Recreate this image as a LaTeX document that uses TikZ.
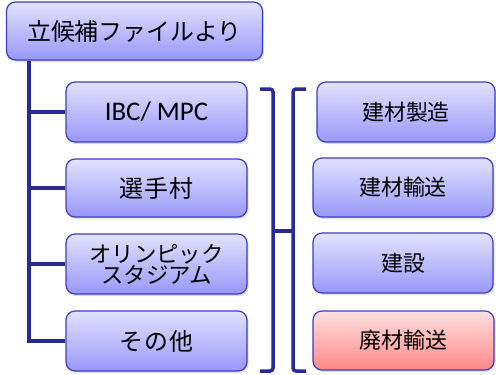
\documentclass[tikz,border=0pt]{standalone}
\usepackage{fontspec}
\setmainfont{Noto Sans CJK JP}
\newfontfamily\latinfont{Carlito}
\usetikzlibrary{shadows}
\definecolor{boxline}{HTML}{3C3CC8}
\definecolor{conn}{HTML}{2A2A96}
\definecolor{btop}{HTML}{E2E2FF}
\definecolor{bbot}{HTML}{9898FA}
\definecolor{rtop}{HTML}{FFE0E0}
\definecolor{rbot}{HTML}{FF8888}
\tikzset{
  box/.style={draw=boxline, line width=1.2bp, rounded corners=9bp,
    top color=btop, bottom color=bbot, text=black,
    drop shadow={opacity=0.25, shadow xshift=1.5bp, shadow yshift=-2bp},
    align=center, inner sep=0pt},
  redbox/.style={box, top color=rtop, bottom color=rbot},
  link/.style={draw=conn, line width=3.5bp},
}
\begin{document}
\begin{tikzpicture}[x=1bp,y=-1bp]
\useasboundingbox (0,0) rectangle (496,374);
% top box
\node[box, minimum width=256bp, minimum height=58bp, font=\fontsize{24}{28}\selectfont] (top) at (134.5,31) {立候補ファイルより};
% left boxes
\node[box, minimum width=181bp, minimum height=60bp, font=\latinfont\fontsize{27}{30}\selectfont] (ibc) at (156.5,112) {IBC/ MPC};
\node[box, minimum width=181bp, minimum height=58bp, font=\fontsize{24}{28}\selectfont] (mura) at (156.5,188) {選\hspace{1.5bp}手\hspace{1.5bp}村};
\node[box, minimum width=181bp, minimum height=60bp, font=\fontsize{22.5}{25}\selectfont] (stad) at (156.5,264) {オリンピック\\[-4bp]スタジアム};
\node[box, minimum width=181bp, minimum height=60bp, font=\fontsize{24}{28}\selectfont] (other) at (156.5,341) {そ\hspace{1.5bp}の\hspace{1.5bp}他};
% right boxes
\node[box, minimum width=178bp, minimum height=60bp, font=\fontsize{22}{26}\selectfont] (r1) at (406,112) {建材製造};
\node[box, minimum width=180bp, minimum height=59bp, font=\fontsize{22}{26}\selectfont] (r2) at (403,187.5) {建材輸送};
\node[box, minimum width=180bp, minimum height=60bp, font=\fontsize{22}{26}\selectfont] (r3) at (403,263) {建設};
\node[redbox, minimum width=181bp, minimum height=59bp, font=\fontsize{22}{26}\selectfont] (r4) at (403.5,340.5) {廃材輸送};
% trunk
\coordinate (trunk) at (29,0);
\draw[link] (top.south -| trunk) -- (other.west -| trunk) -- (other.west);
\draw[link] (ibc.west -| trunk) -- (ibc.west);
\draw[link] (mura.west -| trunk) -- (mura.west);
\draw[link] (stad.west -| trunk) -- (stad.west);
% brackets
\coordinate (b1t) at (260,89);
\coordinate (b1b) at (260,371);
\coordinate (bm) at (293,231);
\coordinate (b2t) at (306,89);
\coordinate (b2b) at (306,371);
\draw[link, rounded corners=3bp] (b1t) -- (273,89) -- (273,371) -- (b1b);
\draw[link, rounded corners=3bp] (b2t) -- (293,89) -- (293,371) -- (b2b);
\draw[link] (273,231) -- (bm);
\end{tikzpicture}
\end{document}
